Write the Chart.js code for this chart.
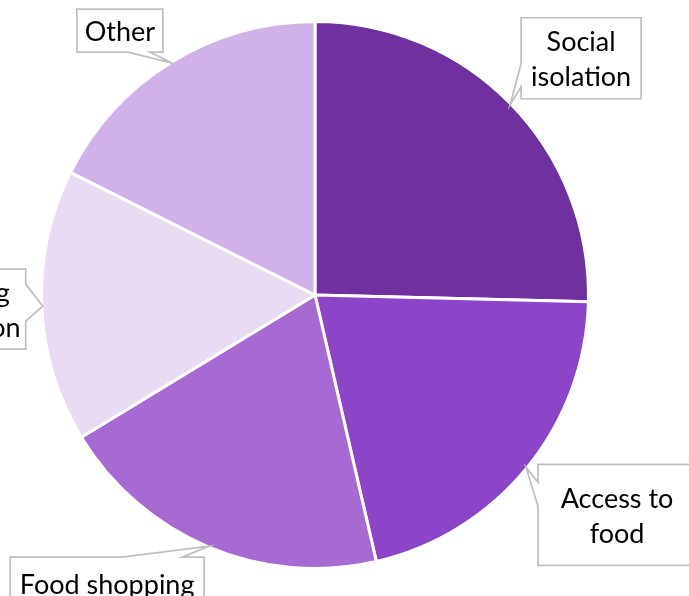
<!DOCTYPE html>
<html>
<head>
<meta charset="utf-8">
<script src="https://cdn.jsdelivr.net/npm/chart.js@4"></script>
<style>
  html, body { margin: 0; padding: 0; background: #fff; }
  canvas { display: block; }
</style>
</head>
<body>
<canvas id="myChart" width="689" height="596"></canvas>
<script>
// slice names (each line of a label is one entry)
var labels = [
    ["Social", "isolation"],
    ["Access to", "food"],
    ["Food shopping"],
    ["Meal planning", "and preparation"],
    ["Other"]
];
var shares = [25.4, 21.0, 19.9, 16.1, 17.6];
var colors = ["#7030A0", "#8C45C8", "#A66AD2", "#E9DBF4", "#D0B2E8"];

// callout box for each slice: offset of the box from the arc point,
// its size, and where the pointer leaves the box (side, from, to)
var boxes = [
    { dx: 11,   dy: -87,   w: 120, h: 81,  side: "left",   a: 46,  b: 69 },
    { dx: 12,   dy: -3,    w: 158, h: 101, side: "left",   a: 18,  b: 42 },
    { dx: -199, dy: 11,    w: 194, h: 52,  side: "top",    a: 112, b: 172 },
    { dx: -215, dy: -37,   w: 198, h: 80,  side: "right",  a: 15,  b: 52 },
    { dx: -95,  dy: -54,   w: 86,  h: 43,  side: "bottom", a: 51,  b: 73 }
];

var callouts = {
    id: "callouts",
    afterDatasetsDraw: function(chart) {
        var ctx = chart.ctx;
        var arcs = chart.getDatasetMeta(0).data;
        ctx.save();
        arcs.forEach(function(arc, i) {
            var mid = (arc.startAngle + arc.endAngle) / 2;
            var r = arc.outerRadius - 1;
            var px = arc.x + Math.cos(mid) * r;
            var py = arc.y + Math.sin(mid) * r;
            var b = boxes[i];
            var x0 = px + b.dx, y0 = py + b.dy, x1 = x0 + b.w, y1 = y0 + b.h;

            ctx.beginPath();
            ctx.moveTo(x0, y0);
            if (b.side === "top") {
                ctx.lineTo(x0 + b.a, y0); ctx.lineTo(px, py); ctx.lineTo(x0 + b.b, y0);
            }
            ctx.lineTo(x1, y0);
            if (b.side === "right") {
                ctx.lineTo(x1, y0 + b.a); ctx.lineTo(px, py); ctx.lineTo(x1, y0 + b.b);
            }
            ctx.lineTo(x1, y1);
            if (b.side === "bottom") {
                ctx.lineTo(x0 + b.b, y1); ctx.lineTo(px, py); ctx.lineTo(x0 + b.a, y1);
            }
            ctx.lineTo(x0, y1);
            if (b.side === "left") {
                ctx.lineTo(x0, y0 + b.b); ctx.lineTo(px, py); ctx.lineTo(x0, y0 + b.a);
            }
            ctx.closePath();
            ctx.fillStyle = "#fff";
            ctx.fill();
            ctx.lineWidth = 1.7;
            ctx.strokeStyle = "#BFBFBF";
            ctx.stroke();

            ctx.fillStyle = "#000";
            ctx.font = "27px Lato";
            ctx.textAlign = "center";
            ctx.textBaseline = "middle";
            var lines = labels[i];
            var lh = 35;
            var cy = (y0 + y1) / 2 + 2 - (lines.length - 1) * lh / 2;
            lines.forEach(function(t, k) {
                ctx.fillText(t, (x0 + x1) / 2, cy + k * lh);
            });
        });
        ctx.restore();
    }
};

new Chart("myChart", {
    type: "pie",
    data: {
        labels: labels.map(function(l) { return l.join(" "); }),
        datasets: [{
            data: shares,
            backgroundColor: colors,
            borderColor: "#fff",
            borderWidth: 3
        }]
    },
    options: {
        responsive: false,
        animation: false,
        layout: { padding: { left: 40, top: 20, right: 99, bottom: 26 } },
        plugins: {
            legend: { display: false },
            tooltip: { enabled: false }
        }
    },
    plugins: [callouts]
});
</script>
</body>
</html>
